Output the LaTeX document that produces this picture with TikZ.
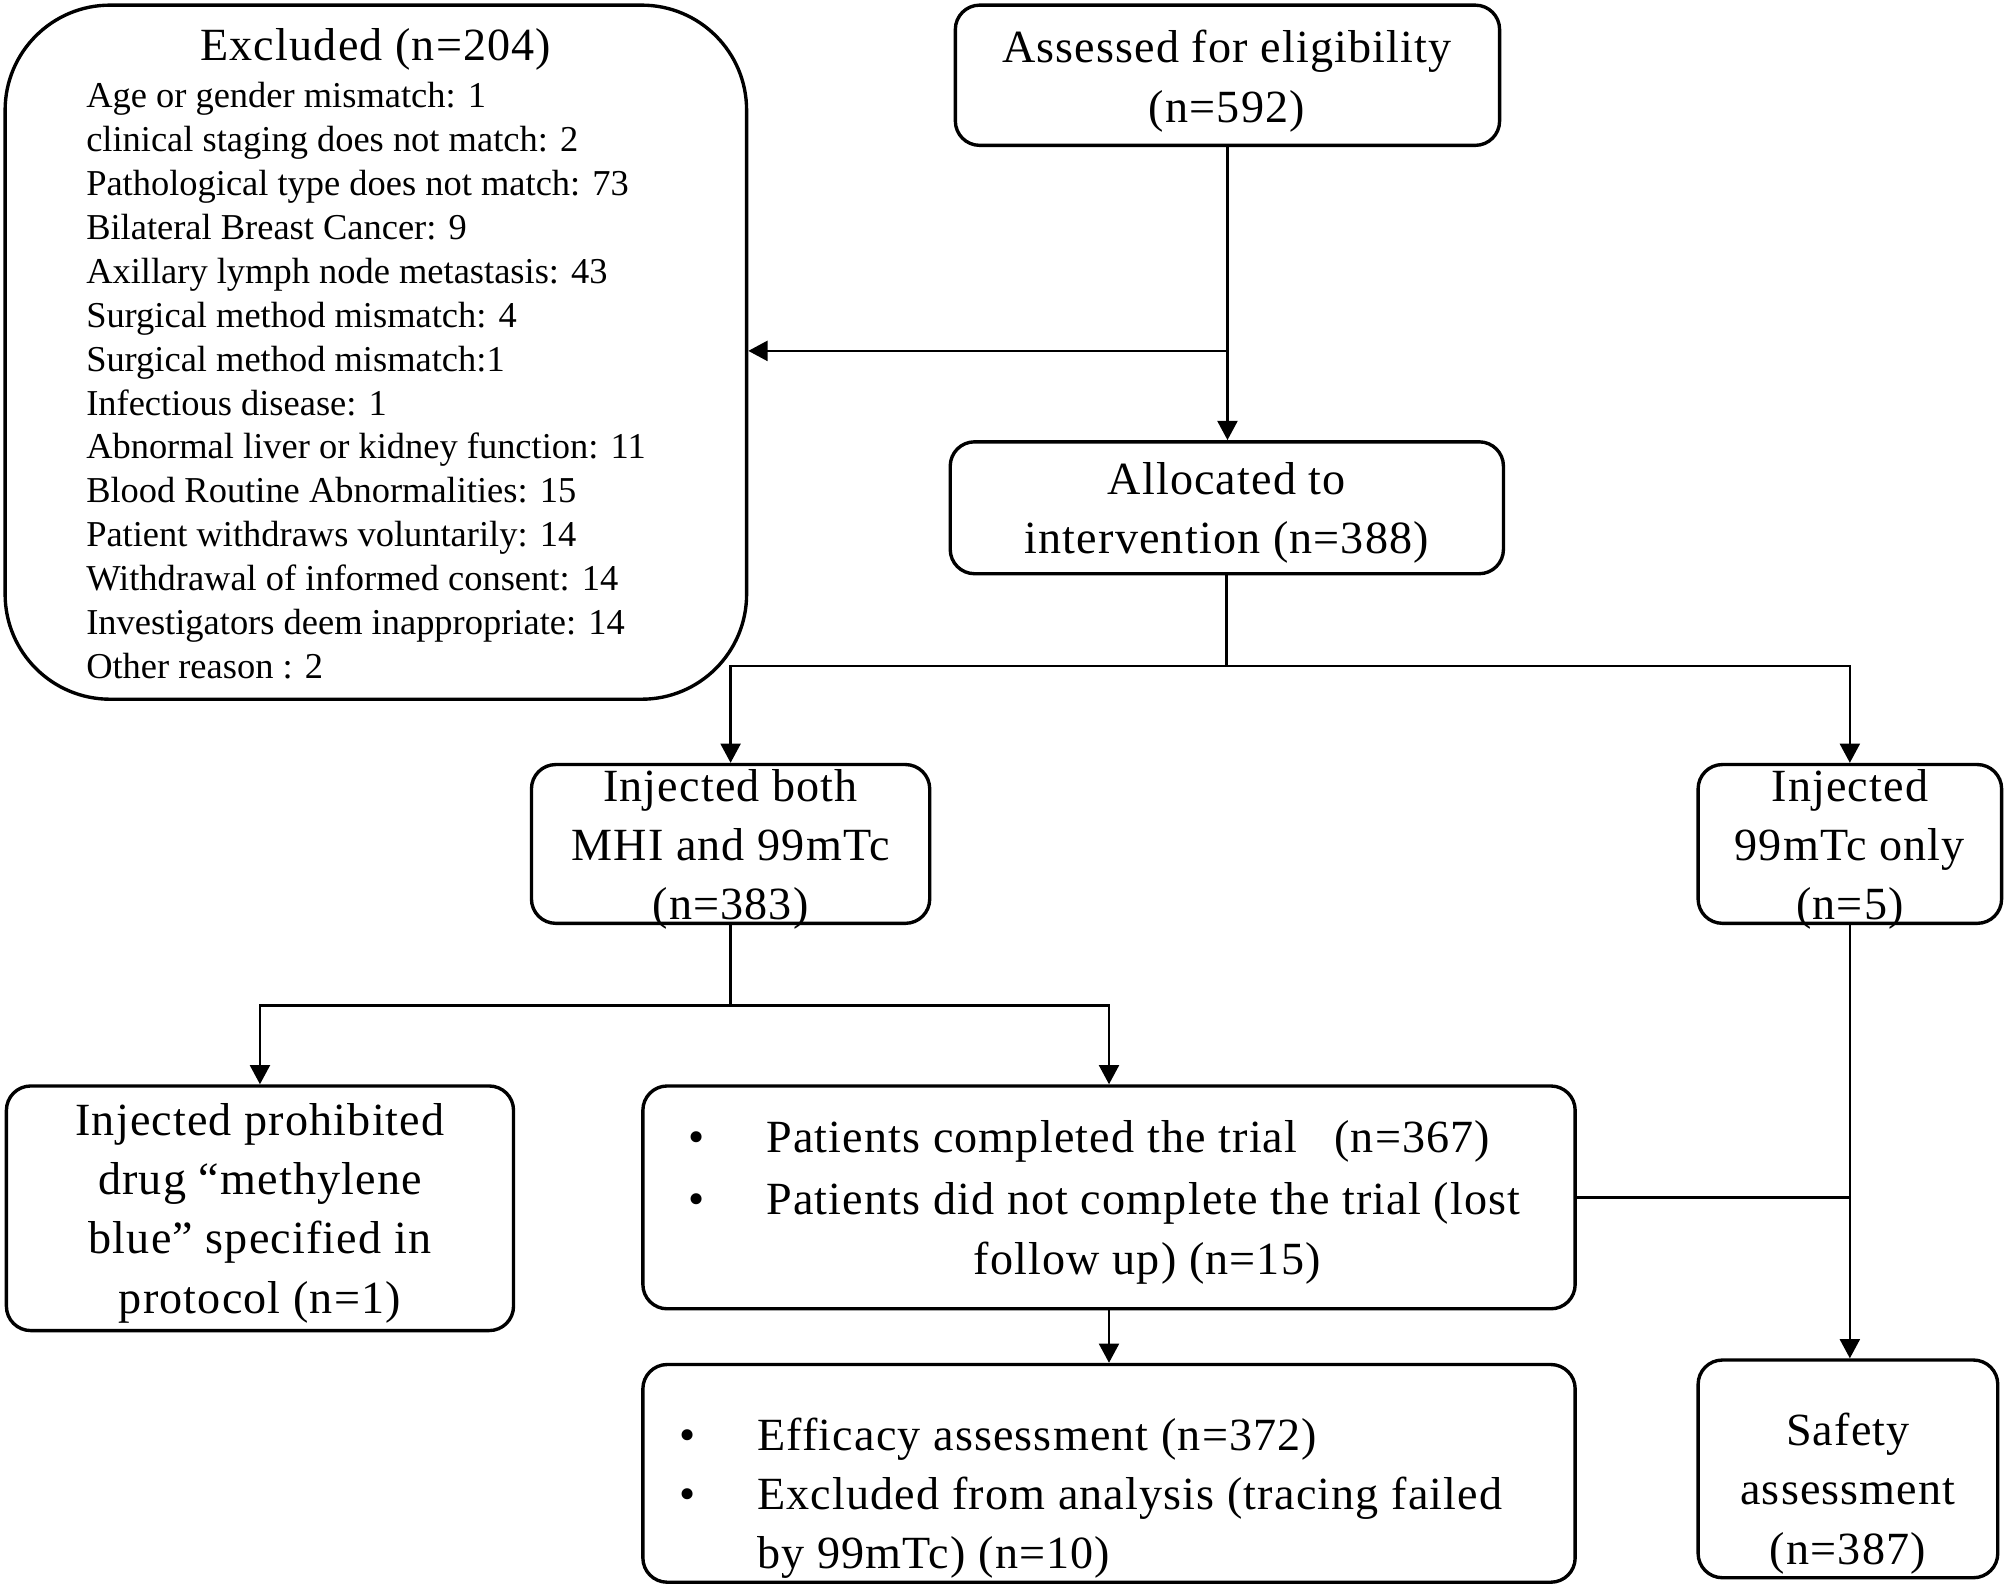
\documentclass[tikz,border=0pt]{standalone}
\usepackage{fontspec}
\setmainfont{Liberation Serif}
\newfontfamily\bigf[LetterSpace=2.5]{Liberation Serif}
\newcommand\bigtext{\bigf\fontsize{20.5pt}{26.7pt}\selectfont}
\newcommand\smalltext{\fontsize{16.2pt}{19.5pt}\selectfont}
\usetikzlibrary{arrows.meta}
\begin{document}
\begin{tikzpicture}[x=0.02cm, y=-0.02cm,
  box/.style={draw, line width=1.5pt, rounded corners=0.38cm, inner sep=0pt},
  conn/.style={line width=1.2pt},
  arr/.style={conn, -{Triangle[length=0.3cm,width=0.31cm]}},
  bt/.style={anchor=base, inner sep=0pt, font=\bigtext},
  btl/.style={anchor=base west, inner sep=0pt, font=\bigtext},
  st/.style={anchor=base west, inner sep=0pt, font=\smalltext}]
\useasboundingbox[fill=white] (0,0) rectangle (1568,1238);

% boxes
\node[box, rounded corners=1.64cm, minimum width=579*0.02cm, minimum height=542*0.02cm] (excl) at (293.5,275) {};
\node[box, minimum width=425*0.02cm, minimum height=109.5*0.02cm] (assess) at (958.5,58.75) {};
\node[box, minimum width=432*0.02cm, minimum height=103*0.02cm] (alloc) at (958,396.5) {};
\node[box, minimum width=311*0.02cm, minimum height=124*0.02cm] (both) at (570.5,659) {};
\node[box, minimum width=237*0.02cm, minimum height=124*0.02cm] (only) at (1444.5,659) {};
\node[box, minimum width=396*0.02cm, minimum height=191*0.02cm] (prohib) at (203,943.5) {};
\node[box, minimum width=728*0.02cm, minimum height=174*0.02cm] (compl) at (866,935) {};
\node[box, minimum width=728*0.02cm, minimum height=170*0.02cm] (effic) at (866,1150.5) {};
\node[box, minimum width=234*0.02cm, minimum height=170*0.02cm] (safety) at (1443,1147) {};

% texts
\node[bt] (t0) at (293.5,47) {Excluded (n=204)};
\foreach \i/\s in {0/{Age or gender mismatch: 1},
  1/{clinical staging does not match: 2},
  2/{Pathological type does not match: 73},
  3/{Bilateral Breast Cancer: 9},
  4/{Axillary lymph node metastasis: 43},
  5/{Surgical method mismatch: 4},
  6/{Surgical method mismatch:1},
  7/{Infectious disease: 1},
  8/{Abnormal liver or kidney function: 11},
  9/{Blood Routine Abnormalities: 15},
  10/{Patient withdraws voluntarily: 14},
  11/{Withdrawal of informed consent: 14},
  12/{Investigators deem inappropriate: 14},
  13/{Other reason : 2}}
  \node[st] (ex\i) at (67,84+34.3*\i) {\s};

\node[bt] (a1) at (958,49) {Assessed for eligibility};
\node[bt] (a2) at (958,96) {(n=592)};
\node[bt] (b1) at (958,386) {Allocated to};
\node[bt] (b2) at (958,432) {intervention (n=388)};
\node[bt] (c1) at (570.5,626) {Injected both};
\node[bt] (c2) at (570.5,672) {MHI and 99mTc};
\node[bt] (c3) at (570.5,718) {(n=383)};
\node[bt] (d1) at (1444.5,626) {Injected};
\node[bt] (d2) at (1444.5,672) {99mTc only};
\node[bt] (d3) at (1444.5,718) {(n=5)};
\node[bt] (e1) at (203,887) {Injected prohibited};
\node[bt] (e2) at (203,933) {drug “methylene};
\node[bt] (e3) at (203,979) {blue” specified in};
\node[bt] (e4) at (203,1026) {protocol (n=1)};
\node[bt] (f0a) at (544,900) {•};
\node[bt] (f0b) at (544,948) {•};
\node[btl] (f1) at (598,900) {Patients completed the trial\hspace{0.8em}(n=367)};
\node[btl] (f2) at (598,948) {Patients did not complete the trial (lost};
\node[btl] (f3) at (760,995) {follow up) (n=15)};
\node[bt] (g0a) at (537,1133) {•};
\node[bt] (g0b) at (537,1179) {•};
\node[btl] (g1) at (591,1133) {Efficacy assessment (n=372)};
\node[btl] (g2) at (591,1179) {Excluded from analysis (tracing failed};
\node[btl] (g3) at (591,1225) {by 99mTc) (n=10)};
\node[bt] (h1) at (1443,1129) {Safety};
\node[bt] (h2) at (1443,1175) {assessment};
\node[bt] (h3) at (1443,1222) {(n=387)};

% connectors
\draw[arr] (assess.south) -- (assess.south |- alloc.north);
\coordinate (j1) at (958.5,274);
\draw[arr] (j1) -- (j1 -| excl.east);
\coordinate (j2) at (958,520);
\draw[conn] (alloc.south) -- (j2);
\draw[arr] (j2) -| (both.north);
\draw[arr] (j2) -| (only.north);
\coordinate (j3) at (570.5,785);
\draw[conn] (both.south) -- (j3);
\draw[arr] (j3) -| (prohib.north);
\draw[arr] (j3) -| (compl.north);
\draw[arr] (only.south) -- (only.south |- safety.north);
\draw[conn] (compl.east) -- (compl.east -| only.south);
\draw[arr] (compl.south) -- (effic.north);
\end{tikzpicture}
\end{document}
